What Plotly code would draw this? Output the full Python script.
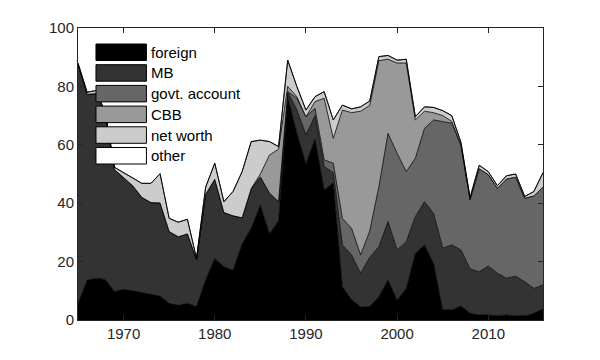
import plotly.graph_objects as go

years = list(range(1965, 2017))

foreign = [5.5, 13.7, 14.3, 13.9, 9.7, 10.5, 10.0, 9.4, 8.8, 8.2,
           5.7, 5.1, 5.7, 4.6, 13.7, 21.1, 18.3, 17.0, 26.0, 31.5,
           39.3, 29.5, 34.0, 76.5, 64.0, 53.5, 62.0, 44.5, 47.0, 11.4,
           7.0, 4.5, 4.6, 8.0, 13.7, 6.8, 10.8, 22.8, 25.7, 19.4,
           3.4, 3.4, 4.8, 2.3, 1.7, 1.7, 1.4, 1.7, 1.4, 1.4,
           2.3, 3.8]
mb = [82.0, 63.6, 63.2, 56.6, 41.8, 38.3, 36.0, 32.6, 31.4, 31.9,
      24.6, 23.4, 23.8, 16.1, 29.3, 27.1, 18.5, 18.7, 9.0, 13.5,
      9.7, 14.0, 6.5, 1.7, 8.0, 9.9, 8.0, 8.0, 3.5, 14.3,
      15.3, 11.5, 16.9, 17.1, 20.0, 17.2, 16.0, 12.6, 14.8, 17.1,
      21.2, 22.3, 19.2, 15.2, 14.8, 16.8, 14.6, 12.6, 13.6, 11.7,
      8.5, 8.2]
govt = [0, 0, 0, 0, 0, 0, 0, 0, 0, 0,
        0, 0, 0, 0, 0, 0, 0, 0, 0, 0,
        0, 0, 0, 0, 4.0, 6.2, 2.5, 2.3, 3.2, 9.1,
        9.1, 6.3, 9.0, 20.5, 30.2, 33.1, 24.0, 20.0, 25.1, 32.0,
        43.4, 41.7, 35.9, 23.7, 35.3, 31.3, 29.1, 34.0, 33.9, 28.6,
        31.7, 33.5]
cbb = [0, 0, 0, 0, 0, 0, 0, 0, 0, 0,
       0, 0, 0, 0, 0, 0, 0, 0, 0, 0,
       1.0, 13.0, 18.0, 1.8, 0.5, 0, 2.3, 21.1, 8.5, 37.1,
       39.6, 49.2, 43.0, 43.2, 25.4, 30.9, 37.2, 13.1, 5.9, 2.5,
       2.0, 0.6, 0, 0, 0, 0, 0, 0, 0, 0,
       0, 0]
net_worth = [0.5, 0.7, 1.1, 0.5, 0.8, 1.7, 2.8, 4.8, 6.6, 10.0,
             4.5, 5.0, 5.0, 0.4, 2.5, 5.5, 3.7, 8.3, 15.8, 16.1,
             11.6, 4.6, 0.9, 9.0, 3.5, 2.3, 1.7, 2.3, 6.3, 1.7,
             1.3, 1.5, 1.5, 1.4, 1.3, 1.0, 1.3, 1.1, 1.5, 1.8,
             1.7, 2.0, 0.9, 0.7, 1.2, 1.0, 0.9, 1.1, 1.1, 0.6,
             1.5, 5.0]
other = [0] * len(years)

names = ["foreign", "MB", "govt. account", "CBB", "net worth", "other"]
series = [foreign, mb, govt, cbb, net_worth, other]
colors = ["#000000", "#333333", "#666666", "#999999", "#cccccc", "#ffffff"]

x_ticks = [1970, 1980, 1990, 2000, 2010]
y_ticks = [0, 20, 40, 60, 80, 100]

FONT = "Liberation Sans, Arial, sans-serif"

fig = go.Figure()
for name, vals, col in zip(names, series, colors):
    fig.add_trace(go.Scatter(
        x=years, y=vals, name=name, mode="lines", stackgroup="one",
        fillcolor=col, line=dict(color="black", width=0.8),
        showlegend=False))

# page body has an 8px margin: shift the figure's plot area accordingly
OFF = 8
W, H = 600, 360
L, R, T, B = 78 - OFF, 600 - 543.5 + OFF, 28 - OFF, 40 + OFF
pw, ph = W - L - R, H - T - B


def px_x(p):
    return (p - OFF - L) / pw


def px_y(p):
    return (H - B - (p - OFF)) / ph


# manual legend (MATLAB-style, transparent background)
row_top = 44.0
row_step = 20.7
sw_h = 16.5
for i, (name, col) in enumerate(zip(names, colors)):
    top = row_top + i * row_step
    fig.add_shape(type="rect", xref="paper", yref="paper",
                  x0=px_x(96), x1=px_x(146.5), y0=px_y(top + sw_h), y1=px_y(top),
                  fillcolor=col, line=dict(color="black", width=1))
    fig.add_annotation(xref="paper", yref="paper", x=px_x(149), y=px_y(top + sw_h / 2),
                       text=name, showarrow=False, xanchor="left", yanchor="middle",
                       font=dict(family=FONT, size=15, color="#000000"))

axis_common = dict(showline=True, linecolor="#262626", linewidth=1, mirror="allticks",
                   ticks="inside", ticklen=5, tickcolor="#262626", showgrid=False,
                   zeroline=False, tickfont=dict(family=FONT, size=15, color="#262626"))

fig.update_layout(
    width=W, height=H,
    margin=dict(l=L, r=R, t=T, b=B),
    paper_bgcolor="white", plot_bgcolor="white",
    xaxis=dict(range=[1965, 2016], tickvals=x_ticks, **axis_common),
    yaxis=dict(range=[0, 100], tickvals=y_ticks, **axis_common),
)

fig.write_html("out.html")
